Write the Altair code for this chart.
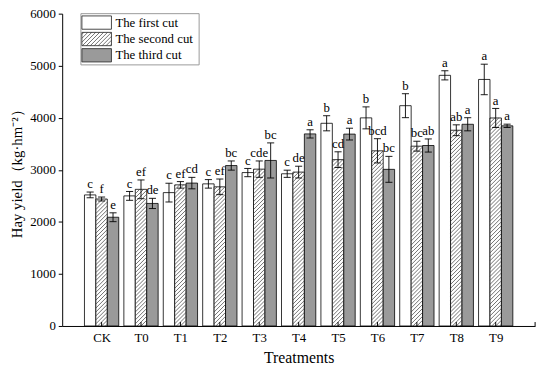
import altair as alt
import pandas as pd
import numpy as np

# ---------------- data ----------------
categories = ["CK", "T0", "T1", "T2", "T3", "T4", "T5", "T6", "T7", "T8", "T9"]
series = ["The first cut", "The second cut", "The third cut"]

first = [2518, 2499, 2562, 2730, 2947, 2924, 3894, 3998, 4232, 4815, 4736]
first_err = [55, 85, 180, 82, 79, 69, 145, 211, 230, 88, 293]
first_sig = ["c", "c", "c", "c", "c", "c", "b", "b", "b", "a", "a"]

second = [2439, 2625, 2711, 2673, 3013, 2956, 3195, 3365, 3454, 3760, 3996]
second_err = [38, 180, 63, 150, 157, 113, 151, 233, 95, 104, 183]
second_sig = ["f", "ef", "ef", "ef", "cde", "de", "cd", "bcd", "bc", "ab", "a"]

third = [2089, 2354, 2745, 3082, 3180, 3690, 3686, 3009, 3467, 3875, 3845]
third_err = [85, 98, 110, 88, 337, 79, 113, 249, 126, 126, 32]
third_sig = ["e", "de", "cd", "bc", "bc", "a", "a", "bc", "ab", "a", "a"]

y_ticks = [0, 1000, 2000, 3000, 4000, 5000, 6000]

# ---------------- layout / style ----------------
W, H = 480, 317
XMIN, XMAX = -1, 11
YMAX = 6000
SX = W / (XMAX - XMIN)      # px per category unit
SY = H / YMAX               # px per yield unit
offsets = [-0.29, 0.0, 0.29]
HALF = 0.145
CAP = 0.09
HATCH_STEP = 4.0
FONT = "Liberation Serif"
fills = ["white", "white", "#9a9a9a"]

values = [first, second, third]
errs = [first_err, second_err, third_err]
sigs = [first_sig, second_sig, third_sig]

rows = []
for si, s in enumerate(series):
    for ci, c in enumerate(categories):
        x = ci + offsets[si]
        v = values[si][ci]
        e = errs[si][ci]
        rows.append(dict(cat=c, series=s, x=x, xl=x - HALF, xr=x + HALF,
                         capl=x - CAP, capr=x + CAP, v=v, lo=v - e, hi=v + e,
                         sig=sigs[si][ci], zero=0))
df = pd.DataFrame(rows)

caps = pd.concat([df.assign(cy=df["lo"]), df.assign(cy=df["hi"])])


def hatch(x0, x1, y0, y1, s=HATCH_STEP):
    """Diagonal '/' hatch segments inside a pixel rectangle (y pointing up)."""
    segs = []
    c = np.floor((x0 - y1) / s) * s
    while c <= x1 - y0:
        xa = max(x0, y0 + c)
        xb = min(x1, y1 + c)
        if xb - xa > 0.3:
            segs.append((xa, xa - c, xb, xb - c))
        c += s
    return segs


def px2x(p):
    return p / SX + XMIN


def px2y_up(p):
    return p / SY


hrows = []
for _, r in df[df["series"] == series[1]].iterrows():
    x0 = (r["xl"] - XMIN) * SX
    x1 = (r["xr"] - XMIN) * SX
    for (a, b, c2, d) in hatch(x0, x1, 0, r["v"] * SY):
        hrows.append(dict(hx1=px2x(a), hy1=px2y_up(b), hx2=px2x(c2), hy2=px2y_up(d)))
hdf = pd.DataFrame(hrows)

# ---- legend (pixel layout relative to the plot's top-left, converted to data units)
LEG_BOX = (19, 139, 0, 52)          # x0, x1, ytop, ybottom (px, y down)
SW_X = (20, 50)
SW_TOPS = [2.3, 19.0, 35.5]
SW_H = 13.5
LBL_X = 54


def ydown2data(p):
    return (H - p) / SY


leg_box = pd.DataFrame([dict(x1=px2x(LEG_BOX[0]), x2=px2x(LEG_BOX[1]),
                             y1=ydown2data(LEG_BOX[2]), y2=ydown2data(LEG_BOX[3]))])
leg_sw = pd.DataFrame([dict(series=s, x1=px2x(SW_X[0]), x2=px2x(SW_X[1]),
                            y1=ydown2data(t), y2=ydown2data(t + SW_H),
                            lx=px2x(LBL_X), ly=ydown2data(t + SW_H / 2))
                       for s, t in zip(series, SW_TOPS)])
lrows = []
t2 = SW_TOPS[1]
for (a, b, c2, d) in hatch(SW_X[0], SW_X[1], H - (t2 + SW_H), H - t2):
    lrows.append(dict(hx1=px2x(a), hy1=px2y_up(b), hx2=px2x(c2), hy2=px2y_up(d)))
ldf = pd.DataFrame(lrows)

ticks = pd.DataFrame(dict(tx=list(range(len(categories))) + [XMAX], zero=0,
                          top=4 / SY))

# ---------------- scales / axes ----------------
label_expr = "[" + ",".join("'" + c + "'" for c in categories) + "][datum.value]"
xscale = alt.Scale(domain=[XMIN, XMAX], nice=False, zero=False)
yscale = alt.Scale(domain=[0, YMAX], nice=False)
xaxis = alt.Axis(values=list(range(len(categories))), labelExpr=label_expr,
                 ticks=False, grid=False, domainColor="black", domainWidth=1,
                 labelFont=FONT, labelFontSize=13, labelColor="black",
                 labelPadding=6, title="Treatments", titleFont=FONT,
                 titleFontSize=16, titleFontWeight="normal", titleColor="black",
                 titlePadding=5)
yaxis = alt.Axis(values=y_ticks, format="d", grid=False, domainColor="black",
                 tickColor="black", tickSize=4, labelFont=FONT, labelFontSize=13,
                 labelColor="black", labelPadding=3,
                 title="Hay yield（kg·hm⁻²）", titleFont=FONT, titleFontSize=15,
                 titleFontWeight="normal", titleColor="black", titlePadding=5)

fill_scale = alt.Scale(domain=series, range=fills)

bars = alt.Chart(df).mark_rect(stroke="black", strokeWidth=0.8).encode(
    x=alt.X("xl:Q", scale=xscale, axis=xaxis),
    x2="xr:Q",
    y=alt.Y("v:Q", scale=yscale, axis=yaxis),
    y2="zero:Q",
    fill=alt.Fill("series:N", scale=fill_scale, legend=None),
)


def hatch_layer(data):
    return alt.Chart(data).mark_rule(stroke="#333333", strokeWidth=0.7).encode(
        x=alt.X("hx1:Q", scale=xscale, axis=xaxis), x2="hx2:Q",
        y=alt.Y("hy1:Q", scale=yscale, axis=yaxis), y2="hy2:Q",
    )


err = alt.Chart(df).mark_rule(stroke="black", strokeWidth=0.9).encode(
    x=alt.X("x:Q", scale=xscale, axis=xaxis),
    y=alt.Y("lo:Q", scale=yscale, axis=yaxis), y2="hi:Q",
)

cap = alt.Chart(caps).mark_rule(stroke="black", strokeWidth=0.9).encode(
    x=alt.X("capl:Q", scale=xscale, axis=xaxis), x2="capr:Q",
    y=alt.Y("cy:Q", scale=yscale, axis=yaxis),
)

labels = alt.Chart(df).mark_text(baseline="bottom", dy=-1, font=FONT,
                                 fontSize=13, fill="black").encode(
    x=alt.X("x:Q", scale=xscale, axis=xaxis),
    y=alt.Y("hi:Q", scale=yscale, axis=yaxis),
    text="sig:N",
)

xticks = alt.Chart(ticks).mark_rule(stroke="black", strokeWidth=1).encode(
    x=alt.X("tx:Q", scale=xscale, axis=xaxis),
    y=alt.Y("zero:Q", scale=yscale, axis=yaxis), y2="top:Q",
)

legend_box = alt.Chart(leg_box).mark_rect(fill="white", stroke="#999999",
                                          strokeWidth=1).encode(
    x=alt.X("x1:Q", scale=xscale, axis=xaxis), x2="x2:Q",
    y=alt.Y("y1:Q", scale=yscale, axis=yaxis), y2="y2:Q",
)

legend_sw = alt.Chart(leg_sw).mark_rect(stroke="#333333", strokeWidth=0.9).encode(
    x=alt.X("x1:Q", scale=xscale, axis=xaxis), x2="x2:Q",
    y=alt.Y("y1:Q", scale=yscale, axis=yaxis), y2="y2:Q",
    fill=alt.Fill("series:N", scale=fill_scale, legend=None),
)

legend_txt = alt.Chart(leg_sw).mark_text(align="left", baseline="middle",
                                         font=FONT, fontSize=13,
                                         fill="black").encode(
    x=alt.X("lx:Q", scale=xscale, axis=xaxis),
    y=alt.Y("ly:Q", scale=yscale, axis=yaxis),
    text="series:N",
)

chart = alt.layer(bars, hatch_layer(hdf), err, cap, labels, xticks,
                  legend_box, legend_sw, hatch_layer(ldf), legend_txt).properties(
    width=W, height=H,
    padding={"left": 55, "top": 3, "right": 7, "bottom": 46},
    autosize="none",
).configure_view(stroke=None)

chart.save("out.html", embed_options={"renderer": "svg", "actions": False})
